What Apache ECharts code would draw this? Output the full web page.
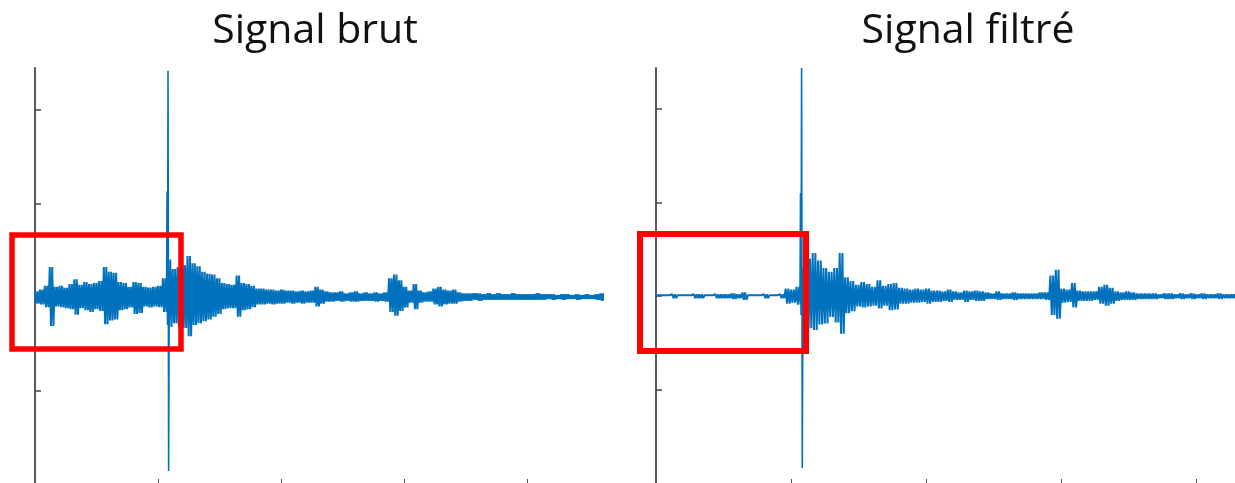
<!DOCTYPE html>
<html>
<head>
<meta charset="utf-8">
<script src="https://cdn.jsdelivr.net/npm/echarts@6/dist/echarts.min.js"></script>
<style>
    html, body { margin: 0; padding: 0; background: #fff; }
    #chart { width: 1235px; height: 483px; }
</style>
</head>
<body>
<div id="chart"></div>
<script>
// titres des deux panneaux
var titles = ['Signal brut', 'Signal filtré'];

// une colonne = 4 échantillons : haut, bas, haut, bas
var colStep = 4;
var xMax = 462;
var xTickValues = [100, 200, 300, 400];
var yTickValues = [-100, 0, 100, 200];

// signal brut : amplitude haute / basse par colonne
var brutUpper = [
    6, 8, 12, 32, 11, 12, 10, 14, 19, 13,
    16, 14, 15, 17, 32, 27, 26, 16, 15, 11,
    16, 15, 11, 10, 11, 12, 20, 40, 30, 32,
    34, 44, 36, 33, 27, 25, 24, 20, 15, 14,
    13, 23, 15, 14, 12, 9, 9, 8, 8, 7,
    8, 7, 7, 6, 7, 6, 7, 11, 8, 6,
    5, 5, 6, 4, 5, 6, 4, 5, 4, 5,
    4, 5, 20, 24, 18, 11, 7, 14, 7, 5,
    6, 9, 11, 8, 7, 8, 5, 4, 4, 4,
    4, 3, 4, 3, 4, 3, 3, 4, 3, 3,
    3, 3, 4, 3, 3, 3, 2, 3, 3, 2,
    3, 2, 3, 2, 3, 4
];
var brutLower = [
    7, 8, 11, 31, 10, 11, 12, 13, 19, 12,
    14, 16, 13, 15, 29, 25, 24, 14, 13, 11,
    18, 17, 10, 11, 10, 11, 16, 32, 28, 32,
    33, 42, 30, 28, 26, 24, 21, 18, 13, 12,
    12, 21, 14, 13, 11, 8, 8, 7, 8, 7,
    7, 6, 7, 6, 7, 6, 6, 10, 7, 5,
    5, 4, 5, 4, 5, 5, 4, 4, 4, 5,
    4, 5, 16, 20, 15, 11, 6, 13, 6, 5,
    5, 8, 10, 8, 7, 7, 5, 4, 4, 3,
    4, 3, 3, 3, 3, 3, 3, 3, 3, 3,
    3, 3, 3, 3, 2, 3, 2, 3, 2, 2,
    3, 2, 2, 2, 3, 4
];
// pic principal (x, valeur)
var brutSpike = [[107, 0], [107.4, 113], [107.8, -30], [108.2, 242], [108.7, -186], [109.2, 20]];

// signal filtré
var filtreUpper = [
    1, 1, 1, 2, 1, 1, 1, 2, 2, 1,
    1, 2, 2, 2, 3, 2, 4, 1, 1, 1,
    2, 1, 1, 2, 8, 7, 10, 30, 40, 46,
    38, 30, 26, 30, 46, 20, 16, 12, 15, 13,
    10, 17, 11, 13, 14, 9, 8, 7, 8, 7,
    8, 6, 6, 5, 7, 5, 4, 6, 5, 6,
    5, 4, 3, 5, 3, 3, 4, 3, 3, 3,
    3, 4, 4, 22, 28, 8, 7, 14, 6, 5,
    5, 5, 10, 12, 9, 5, 4, 5, 4, 3,
    3, 3, 3, 2, 3, 3, 2, 3, 2, 3,
    2, 3, 2, 2, 3, 2, 2, 2, 3, 2,
    2, 2, 2, 2, 2, 2
];
var filtreLower = [
    1, 1, 1, 2, 1, 1, 1, 2, 2, 1,
    1, 2, 2, 2, 3, 2, 4, 1, 1, 1,
    2, 1, 1, 2, 8, 7, 9, 28, 34, 36,
    30, 29, 22, 28, 40, 18, 16, 11, 12, 11,
    10, 13, 10, 15, 14, 8, 8, 7, 7, 6,
    8, 6, 6, 5, 6, 4, 4, 6, 4, 5,
    5, 3, 3, 4, 3, 3, 4, 3, 3, 3,
    3, 3, 4, 20, 24, 7, 6, 12, 5, 5,
    5, 4, 8, 10, 8, 5, 4, 4, 4, 3,
    3, 3, 3, 2, 3, 3, 2, 3, 2, 3,
    2, 3, 2, 2, 3, 2, 2, 2, 3, 2,
    2, 2, 2, 2, 2, 2
];
var filtreSpike = [[106.6, 0], [107, 110], [107.4, -20], [107.8, 243], [108.3, -183], [108.8, 15]];

// construit la trace : chaque colonne oscille entre son haut et son bas
function buildSignal(upper, lower) {
    var pts = [];
    for (var i = 0; i < upper.length; i++) {
        var x0 = i * colStep;
        pts.push([x0, upper[i]]);
        pts.push([x0 + 1, -lower[i]]);
        pts.push([x0 + 2, upper[i]]);
        pts.push([x0 + 3, -lower[i]]);
    }
    return pts;
}

function xAxisOpt(idx) {
    return {
        type: 'value', gridIndex: idx, min: 0, max: xMax,
        axisLine: { show: true, onZero: false, lineStyle: { color: '#c8c8c8', width: 1 } },
        axisTick: { show: true, inside: true, length: 5, customValues: xTickValues, lineStyle: { color: '#555' } },
        axisLabel: { show: false },
        splitLine: { show: false }
    };
}

function yAxisOpt(idx, max) {
    return {
        type: 'value', gridIndex: idx, min: -200, max: max,
        axisLine: { show: true, onZero: false, lineStyle: { color: '#5a5a5a', width: 2 } },
        axisTick: { show: true, inside: true, length: 6, customValues: yTickValues, lineStyle: { color: '#444', width: 1.5 } },
        axisLabel: { show: false },
        splitLine: { show: false }
    };
}

function seriesOpt(idx, data, width) {
    return {
        type: 'line', xAxisIndex: idx, yAxisIndex: idx,
        data: data, showSymbol: false, sampling: null, clip: false,
        lineStyle: { color: '#0072BD', width: width },
        z: 3
    };
}

var chart = echarts.init(document.getElementById('chart'));
var option = {
    animation: false,
    backgroundColor: '#fff',
    grid: [
        { left: 35, top: 68, width: 568, height: 416, outerBoundsMode: 'none' },
        { left: 656, top: 68, width: 624, height: 416, outerBoundsMode: 'none' }
    ],
    xAxis: [xAxisOpt(0), xAxisOpt(1)],
    yAxis: [yAxisOpt(0, 245), yAxisOpt(1, 243)],
    series: [
        seriesOpt(0, buildSignal(brutUpper, brutLower), 2),
        seriesOpt(0, brutSpike, 1.6),
        seriesOpt(1, buildSignal(filtreUpper, filtreLower), 2),
        seriesOpt(1, filtreSpike, 1.6)
    ],
    graphic: [
        {
            type: 'text', x: 315, y: 31, z: 10,
            style: { text: titles[0], font: '41px "Open Sans"', fill: '#111', textAlign: 'center', textVerticalAlign: 'middle' }
        },
        {
            type: 'text', x: 968, y: 31, z: 10,
            style: { text: titles[1], font: '41px "Open Sans"', fill: '#111', textAlign: 'center', textVerticalAlign: 'middle' }
        },
        // cadres rouges
        {
            type: 'rect', z: 20,
            shape: { x: 12, y: 235, width: 169, height: 114 },
            style: { fill: 'none', stroke: '#ff0000', lineWidth: 5.5 }
        },
        {
            type: 'rect', z: 20,
            shape: { x: 640, y: 234, width: 166, height: 117 },
            style: { fill: 'none', stroke: '#ff0000', lineWidth: 6 }
        }
    ]
};
chart.setOption(option);
</script>
</body>
</html>
